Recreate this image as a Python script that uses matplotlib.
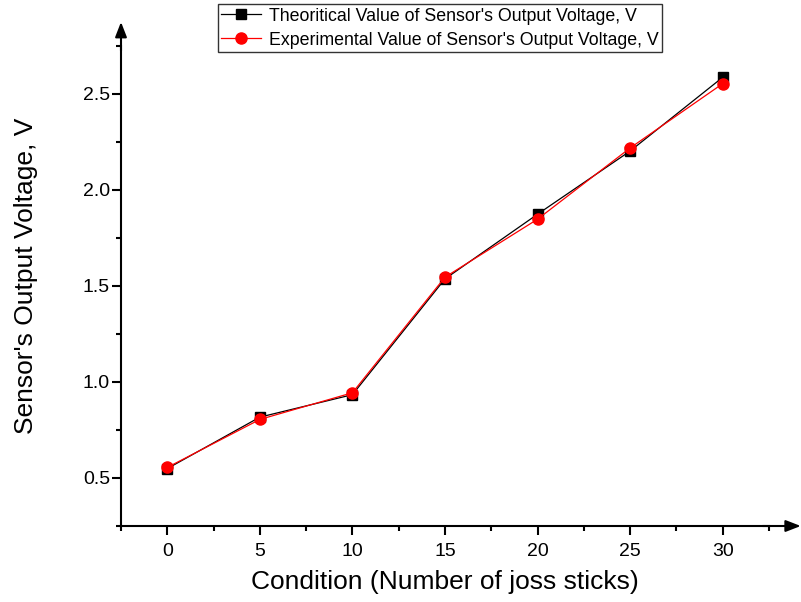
import numpy as np
import matplotlib.pyplot as plt
from matplotlib.ticker import MultipleLocator

plt.rcParams['font.family'] = ['Liberation Sans', 'DejaVu Sans']

# data
joss_sticks = [0, 5, 10, 15, 20, 25, 30]
theoretical = [0.549, 0.817, 0.934, 1.537, 1.874, 2.203, 2.587]
experimental = [0.555, 0.805, 0.944, 1.546, 1.848, 2.219, 2.554]

label_theo = "Theoritical Value of Sensor's Output Voltage, V"
label_exp = "Experimental Value of Sensor's Output Voltage, V"

fig = plt.figure(figsize=(8.01, 6.02), dpi=100)
ax = fig.add_axes([121 / 801, 1 - 526 / 602, 648 / 801, 480 / 602])

ax.plot(joss_sticks, theoretical, color='black', lw=0.9, marker='s',
        markersize=7, label=label_theo, zorder=3)
ax.plot(joss_sticks, experimental, color='red', lw=0.9, marker='o',
        markersize=8, label=label_exp, zorder=4)

ax.set_xlim(-2.5, 32.5)
ax.set_ylim(0.25, 2.75)
ax.xaxis.set_major_locator(MultipleLocator(5))
ax.xaxis.set_minor_locator(MultipleLocator(2.5))
ax.set_yticks([0.5, 1.0, 1.5, 2.0, 2.5])
ax.yaxis.set_minor_locator(MultipleLocator(0.25))

ax.spines['top'].set_visible(False)
ax.spines['right'].set_visible(False)
for s in ['left', 'bottom']:
    ax.spines[s].set_linewidth(1.5)
ax.tick_params(which='major', direction='out', length=6.5, width=1.5, labelsize=14)
ax.tick_params(which='minor', direction='out', length=3.5, width=1.5)
ax.tick_params(axis='x', which='major', pad=6)
ax.tick_params(axis='y', which='major', pad=1.5)

# arrows at the axis ends
arrow = dict(arrowstyle='-|>,head_length=0.9,head_width=0.35', color='black',
             lw=1.5, shrinkA=0, shrinkB=0)
ax.annotate('', xy=(0, 1.05), xytext=(0, 0.99), xycoords='axes fraction',
            arrowprops=arrow, annotation_clip=False)
ax.annotate('', xy=(1.049, 0), xytext=(0.99, 0), xycoords='axes fraction',
            arrowprops=arrow, annotation_clip=False)

ax.set_xlabel('Condition (Number of joss sticks)', fontsize=19, labelpad=7)
ax.set_ylabel("Sensor's Output Voltage, V", fontsize=19, labelpad=32)
ax.yaxis.label.set_y(0.521)

leg = ax.legend(loc='upper center', bbox_to_anchor=(440 / 801, 1 - 4 / 602),
                bbox_transform=fig.transFigure, fontsize=12.8, frameon=True,
                fancybox=False, handlelength=2.25, handletextpad=0.45,
                borderpad=0.2, labelspacing=0.4, borderaxespad=0)
leg.get_frame().set_edgecolor('black')
leg.get_frame().set_linewidth(1.0)

fig.savefig('out.png', dpi=100)
